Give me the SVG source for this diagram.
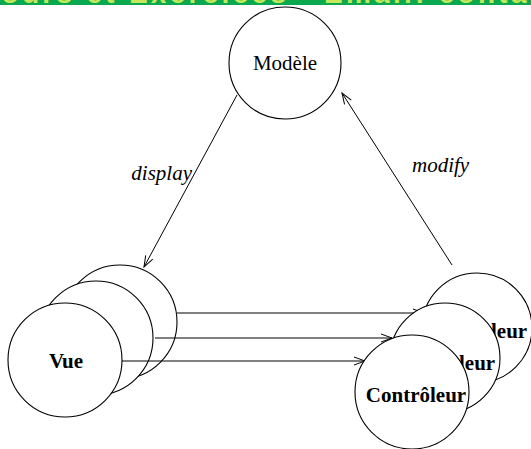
<svg xmlns="http://www.w3.org/2000/svg" width="531" height="449" viewBox="0 0 531 449">
<style>
.node circle{fill:#fff;stroke:#000;stroke-width:1.1}
.lbl{font-family:"Liberation Serif","Times New Roman",serif;font-size:21px;fill:#000}
.b{font-weight:bold}
.it{font-style:italic}
.conn line{stroke:#000;stroke-width:1;fill:none}
</style>
<defs>
<marker id="arr" markerUnits="userSpaceOnUse" markerWidth="14" markerHeight="10" viewBox="-12 -5 14 10" refX="0" refY="0" orient="auto">
<path d="M-11,-4 L0,0 L-11,4" fill="none" stroke="#000" stroke-width="1"/>
</marker>
<clipPath id="bc"><rect x="0" y="0" width="531" height="5"/></clipPath>
</defs>
<rect width="531" height="449" fill="#fff"/>
<g id="banner">
<rect x="0" y="0" width="531" height="5" fill="#0aa84f"/>
<text x="-22" y="3" clip-path="url(#bc)" textLength="580" lengthAdjust="spacing" style="font-family:'Liberation Sans',Arial,sans-serif;font-weight:bold;font-size:28px;fill:#c4e85a">Cours et Exercices - Email: contact</text>
</g>
<g id="modele" class="node">
<circle cx="285" cy="63" r="56"/>
<text class="lbl" x="285" y="70" text-anchor="middle">Modèle</text>
</g>
<g id="vue" class="node">
<circle cx="120" cy="322" r="57"/>
<circle cx="96" cy="338" r="57"/>
<circle cx="65" cy="360" r="57"/>
<text class="lbl b" x="66" y="368" text-anchor="middle">Vue</text>
</g>
<g id="connectors" class="conn">
<line x1="237" y1="95" x2="144" y2="267" marker-end="url(#arr)"/>
<line x1="452" y1="265" x2="342" y2="93" marker-end="url(#arr)"/>
<line x1="177" y1="313" x2="424" y2="313" marker-end="url(#arr)"/>
<line x1="155" y1="338" x2="392" y2="338" marker-end="url(#arr)"/>
<line x1="122" y1="361" x2="365" y2="361" marker-end="url(#arr)"/>
<text class="lbl it" x="192" y="180" text-anchor="end">display</text>
<text class="lbl it" x="412" y="172">modify</text>
</g>
<g id="controleur" class="node">
<circle cx="477" cy="328" r="55"/>
<text class="lbl b" x="477" y="338" text-anchor="middle">Contrôleur</text>
<circle cx="445" cy="358" r="55"/>
<text class="lbl b" x="445" y="370" text-anchor="middle">Contrôleur</text>
<circle cx="412" cy="392" r="57"/>
<text class="lbl b" x="416" y="402" text-anchor="middle">Contrôleur</text>
</g>
</svg>
